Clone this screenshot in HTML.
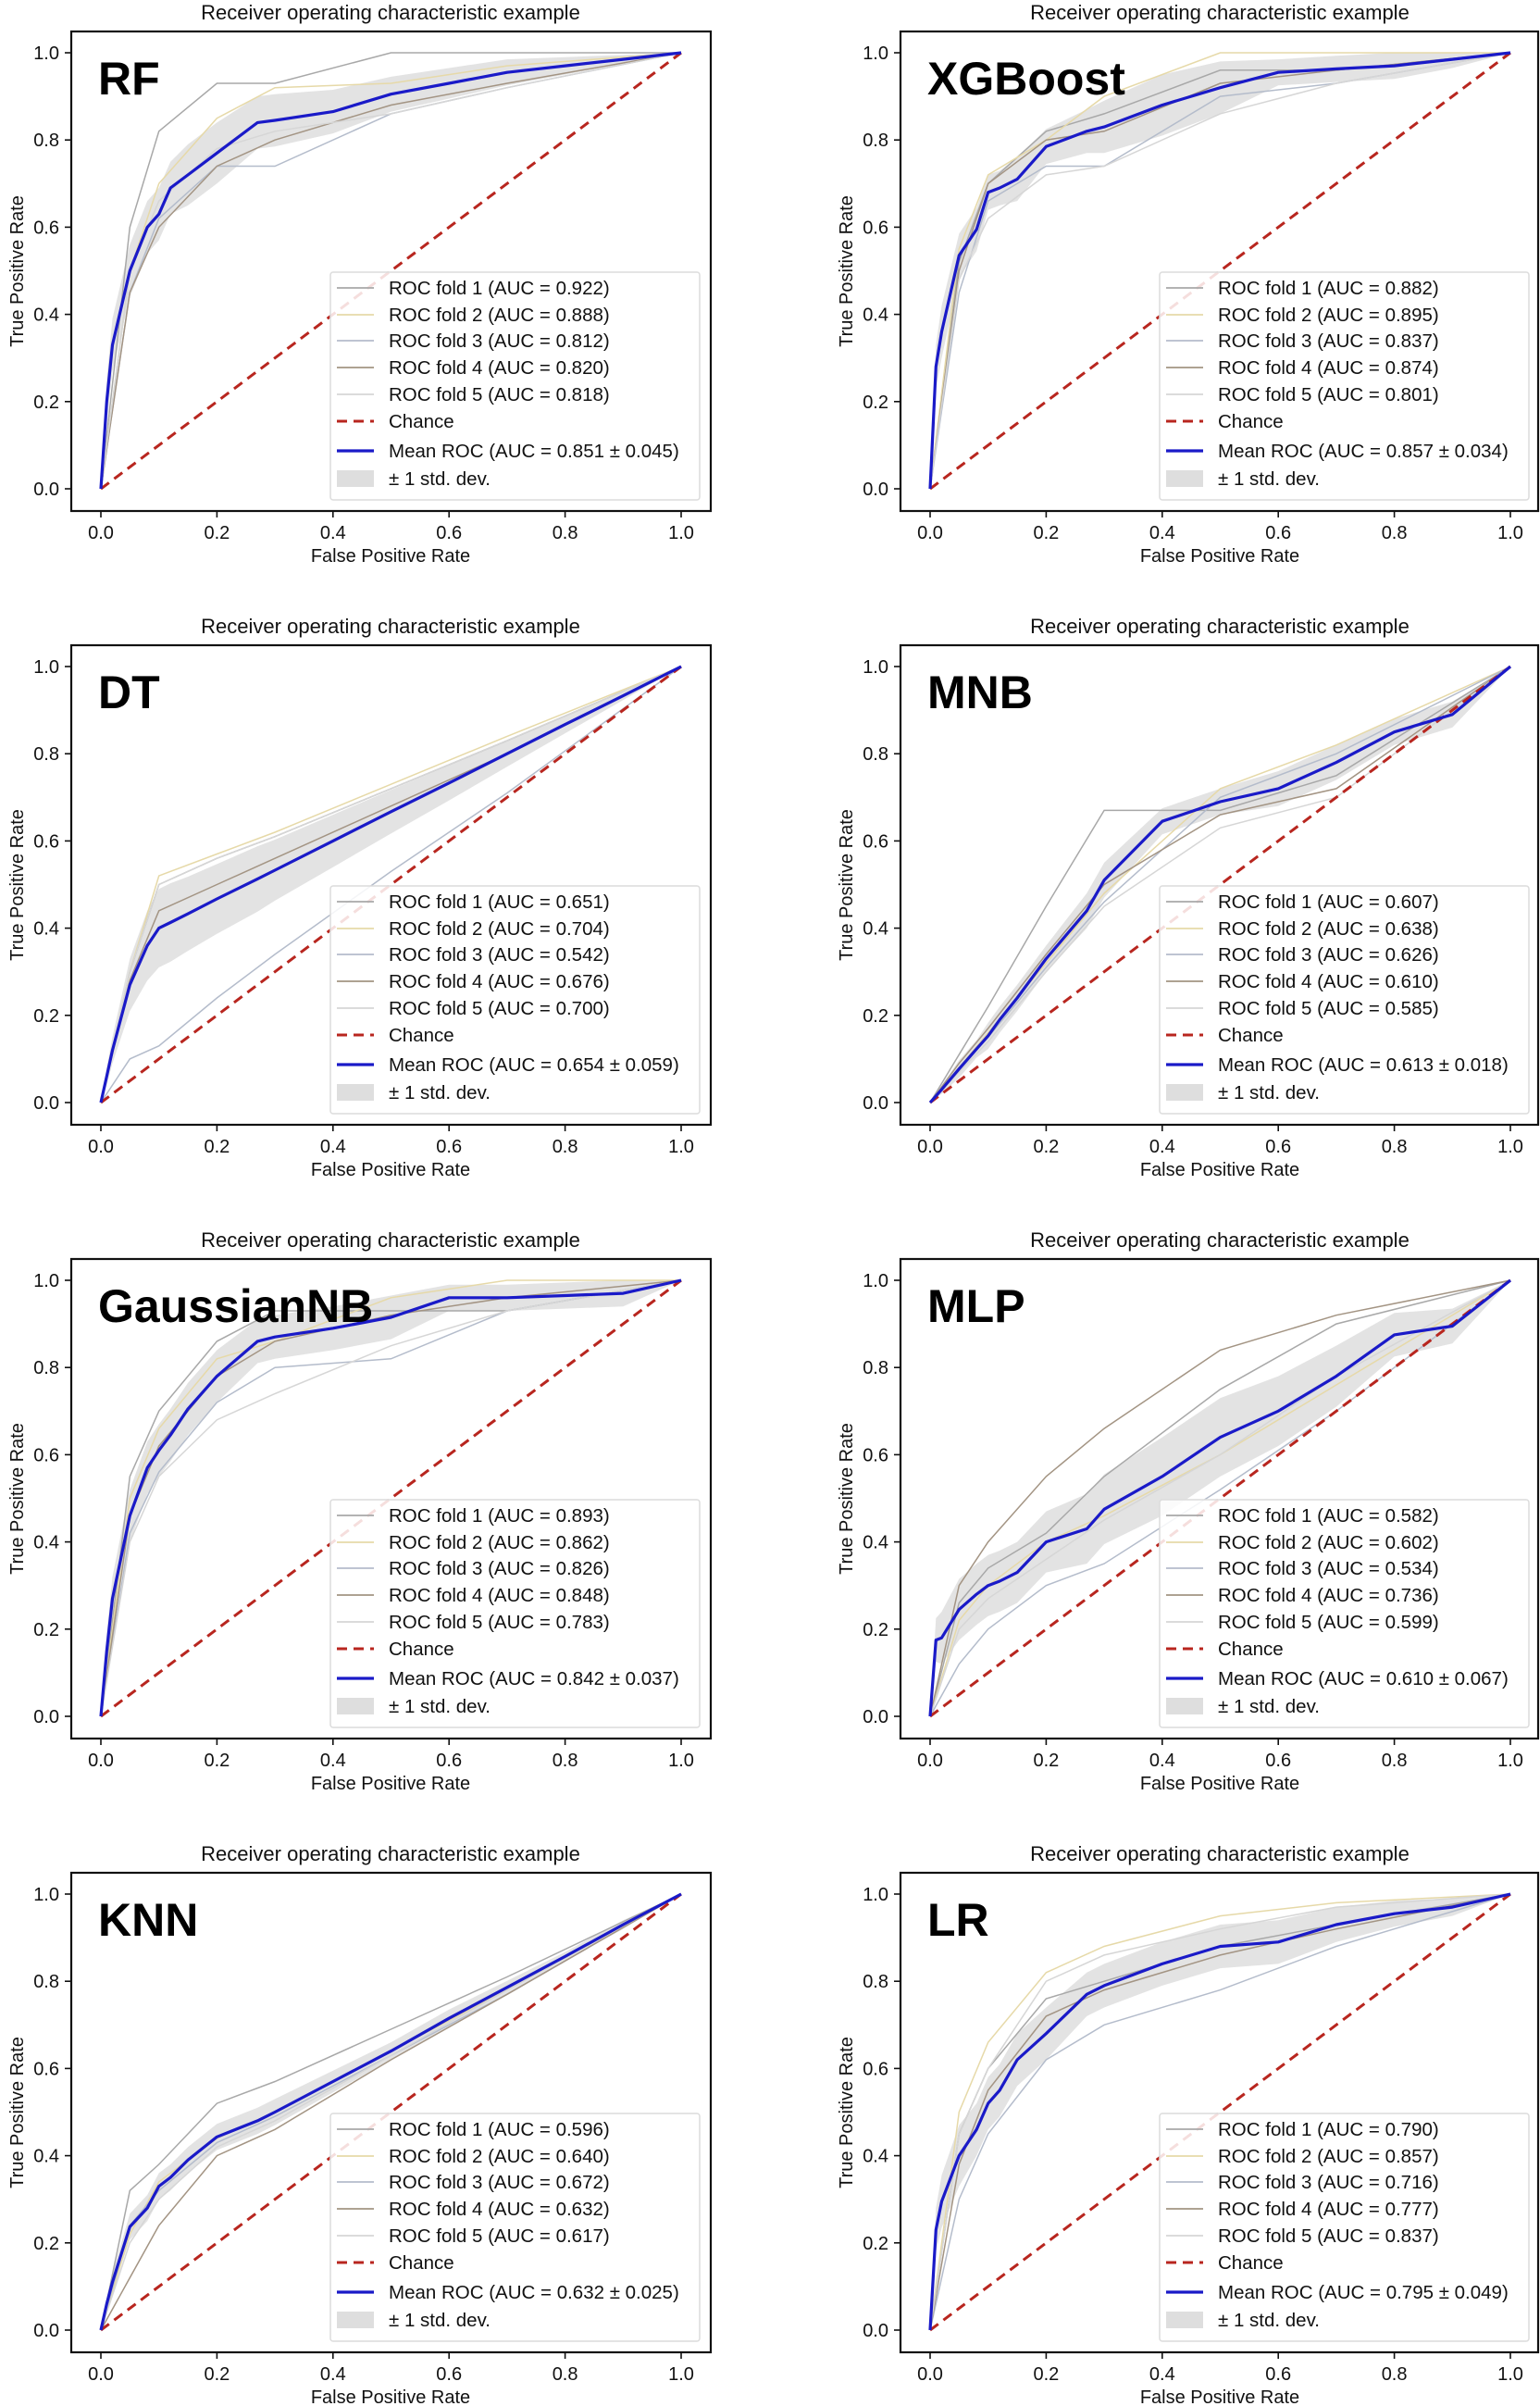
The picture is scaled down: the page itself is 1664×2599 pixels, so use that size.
<!DOCTYPE html>
<html><head><meta charset="utf-8">
<style>
html,body{margin:0;padding:0;background:#fff;}
svg{display:block;font-family:"Liberation Sans","DejaVu Sans",sans-serif;}
</style></head>
<body>
<svg id="fig" width="1664" height="2599" viewBox="0 0 1664 2599" xmlns="http://www.w3.org/2000/svg"></svg>
<script>
// shared FPR grid for mean curves
const gridFpr = [0,0.01,0.02,0.05,0.08,0.1,0.12,0.15,0.2,0.27,0.3,0.4,0.5,0.6,0.7,0.8,0.9,1.0];
// shared coarse FPR grid for fold curves
const foldFpr = [0,0.05,0.1,0.2,0.3,0.5,0.7,1.0];
const tickVals = [0,0.2,0.4,0.6,0.8,1.0];
const tickLabels = ["0.0","0.2","0.4","0.6","0.8","1.0"];

const modelNames = ["RF","XGBoost","DT","MNB","GaussianNB","MLP","KNN","LR"];

const rfMean = [0,0.2,0.33,0.5,0.6,0.63,0.69,0.72,0.77,0.84,0.845,0.865,0.905,0.93,0.955,0.97,0.985,1];
const rfStd  = [0,0.05,0.06,0.06,0.06,0.06,0.06,0.07,0.07,0.06,0.06,0.05,0.04,0.035,0.03,0.02,0.01,0];
const rfFolds = [[0,0.6,0.82,0.93,0.93,1,1,1],[0,0.5,0.7,0.85,0.92,0.93,0.97,1],[0,0.45,0.62,0.74,0.74,0.86,0.92,1],[0,0.45,0.6,0.74,0.8,0.88,0.93,1],[0,0.5,0.66,0.78,0.82,0.86,0.92,1]];
const rfAuc = ["0.922","0.888","0.812","0.820","0.818"];
const rfMeanAuc = "0.851 ± 0.045";

const xgMean = [0,0.28,0.36,0.535,0.595,0.68,0.69,0.71,0.785,0.82,0.83,0.88,0.92,0.955,0.963,0.97,0.985,1];
const xgStd  = [0,0.05,0.06,0.05,0.05,0.04,0.04,0.05,0.04,0.05,0.06,0.07,0.06,0.03,0.03,0.03,0.02,0];
const xgFolds = [[0,0.52,0.7,0.82,0.86,0.96,0.96,1],[0,0.55,0.72,0.8,0.9,1,1,1],[0,0.45,0.66,0.74,0.74,0.9,0.93,1],[0,0.5,0.7,0.8,0.82,0.93,0.96,1],[0,0.48,0.62,0.72,0.74,0.86,0.93,1]];
const xgAuc = ["0.882","0.895","0.837","0.874","0.801"];
const xgMeanAuc = "0.857 ± 0.034";

const dtMean = [0,0.06,0.12,0.27,0.36,0.4,0.413,0.433,0.467,0.513,0.533,0.6,0.667,0.733,0.8,0.867,0.933,1];
const dtStd  = [0,0.02,0.03,0.06,0.08,0.09,0.09,0.085,0.08,0.075,0.07,0.06,0.05,0.04,0.03,0.02,0.01,0];
const dtFolds = [[0,0.3,0.5,0.56,0.61,0.72,0.83,1],[0,0.3,0.52,0.57,0.62,0.73,0.84,1],[0,0.1,0.13,0.24,0.34,0.53,0.71,1],[0,0.28,0.44,0.5,0.56,0.68,0.8,1],[0,0.3,0.5,0.56,0.61,0.72,0.83,1]];
const dtAuc = ["0.651","0.704","0.542","0.676","0.700"];
const dtMeanAuc = "0.654 ± 0.059";

const mnbMean = [0,0.015,0.03,0.077,0.123,0.153,0.19,0.24,0.33,0.44,0.51,0.645,0.69,0.72,0.78,0.85,0.89,1];
const mnbStd  = [0,0.005,0.01,0.02,0.02,0.03,0.03,0.03,0.03,0.04,0.04,0.03,0.03,0.04,0.04,0.03,0.03,0];
const mnbFolds = [[0,0.11,0.22,0.45,0.67,0.67,0.75,1],[0,0.08,0.16,0.32,0.48,0.72,0.82,1],[0,0.08,0.15,0.31,0.46,0.7,0.8,1],[0,0.09,0.17,0.34,0.5,0.66,0.72,1],[0,0.07,0.14,0.3,0.45,0.63,0.7,1]];
const mnbAuc = ["0.607","0.638","0.626","0.610","0.585"];
const mnbMeanAuc = "0.613 ± 0.018";

const gnbMean = [0,0.15,0.27,0.46,0.57,0.61,0.645,0.705,0.78,0.86,0.87,0.89,0.915,0.96,0.96,0.965,0.97,1];
const gnbStd  = [0,0.04,0.05,0.06,0.06,0.06,0.06,0.06,0.06,0.05,0.05,0.05,0.05,0.03,0.03,0.03,0.03,0];
const gnbFolds = [[0,0.55,0.7,0.86,0.93,0.93,0.93,1],[0,0.5,0.66,0.82,0.86,0.96,1,1],[0,0.42,0.56,0.72,0.8,0.82,0.93,1],[0,0.46,0.62,0.78,0.86,0.92,0.96,1],[0,0.4,0.55,0.68,0.74,0.85,0.93,1]];
const gnbAuc = ["0.893","0.862","0.826","0.848","0.783"];
const gnbMeanAuc = "0.842 ± 0.037";

const mlpMean = [0,0.175,0.18,0.245,0.28,0.3,0.31,0.33,0.4,0.43,0.475,0.55,0.64,0.7,0.78,0.875,0.895,1];
const mlpStd  = [0,0.05,0.06,0.07,0.07,0.07,0.07,0.07,0.07,0.08,0.08,0.09,0.09,0.08,0.07,0.05,0.04,0];
const mlpFolds = [[0,0.26,0.34,0.42,0.55,0.75,0.9,1],[0,0.22,0.3,0.4,0.46,0.6,0.76,1],[0,0.12,0.2,0.3,0.35,0.52,0.7,1],[0,0.3,0.4,0.55,0.66,0.84,0.92,1],[0,0.2,0.27,0.36,0.45,0.6,0.78,1]];
const mlpAuc = ["0.582","0.602","0.534","0.736","0.599"];
const mlpMeanAuc = "0.610 ± 0.067";

const knnMean = [0,0.06,0.11,0.237,0.28,0.33,0.35,0.39,0.443,0.48,0.5,0.57,0.64,0.715,0.786,0.857,0.93,1];
const knnStd  = [0,0.01,0.02,0.03,0.03,0.03,0.03,0.03,0.03,0.03,0.03,0.025,0.02,0.02,0.015,0.01,0.01,0];
const knnFolds = [[0,0.32,0.38,0.52,0.57,0.69,0.81,1],[0,0.22,0.34,0.44,0.5,0.64,0.78,1],[0,0.24,0.32,0.43,0.49,0.63,0.77,1],[0,0.12,0.24,0.4,0.46,0.62,0.77,1],[0,0.2,0.3,0.42,0.48,0.63,0.78,1]];
const knnAuc = ["0.596","0.640","0.672","0.632","0.617"];
const knnMeanAuc = "0.632 ± 0.025";

const lrMean = [0,0.23,0.295,0.4,0.46,0.52,0.55,0.62,0.68,0.77,0.79,0.84,0.88,0.89,0.93,0.955,0.97,1];
const lrStd  = [0,0.05,0.06,0.07,0.06,0.06,0.06,0.06,0.06,0.05,0.05,0.05,0.05,0.05,0.04,0.03,0.02,0];
const lrFolds = [[0,0.45,0.6,0.76,0.8,0.88,0.93,1],[0,0.5,0.66,0.82,0.88,0.95,0.98,1],[0,0.3,0.45,0.62,0.7,0.78,0.88,1],[0,0.38,0.55,0.72,0.78,0.86,0.92,1],[0,0.45,0.6,0.8,0.86,0.92,0.97,1]];
const lrAuc = ["0.790","0.857","0.716","0.777","0.837"];
const lrMeanAuc = "0.795 ± 0.049";

const panelMeans = [rfMean,xgMean,dtMean,mnbMean,gnbMean,mlpMean,knnMean,lrMean];
const panelStds = [rfStd,xgStd,dtStd,mnbStd,gnbStd,mlpStd,knnStd,lrStd];
const panelFolds = [rfFolds,xgFolds,dtFolds,mnbFolds,gnbFolds,mlpFolds,knnFolds,lrFolds];
const panelAucs = [rfAuc,xgAuc,dtAuc,mnbAuc,gnbAuc,mlpAuc,knnAuc,lrAuc];
const panelMeanAucs = [rfMeanAuc,xgMeanAuc,dtMeanAuc,mnbMeanAuc,gnbMeanAuc,mlpMeanAuc,knnMeanAuc,lrMeanAuc];

const foldColors = ["#a8a8a8","#e6d9a8","#b4bccb","#a39483","#d6d6d6"];
const NS = "http://www.w3.org/2000/svg";
const fig = document.getElementById("fig");

function mk(tag, attrs, parent){
  const e = document.createElementNS(NS, tag);
  for (const k in attrs) e.setAttribute(k, attrs[k]);
  parent.appendChild(e);
  return e;
}

function drawPanel(i){
  const ox = (i%2)*896, oy = Math.floor(i/2)*663;
  const g = mk("g", {transform:`translate(${ox},${oy})`}, fig);
  
  
  const X = v => 109 + v*627;
  const Y = v => 528 - v*471;
  const pts = (xs, ys) => xs.map((x,k)=>X(x).toFixed(1)+","+Y(ys[k]).toFixed(1)).join(" ");

  const title = mk("text", {x:422, y:21, "text-anchor":"middle", "font-size":"22", fill:"#111"}, g);
  title.textContent = "Receiver operating characteristic example";
  
  

  const mean = panelMeans[i], sd = panelStds[i];
  const up = mean.map((m,k)=>Math.min(1,m+sd[k]));
  const lo = mean.map((m,k)=>Math.max(0,m-sd[k]));
  const bandPts = gridFpr.map((x,k)=>X(x).toFixed(1)+","+Y(up[k]).toFixed(1)).concat(gridFpr.slice().reverse().map((x,k)=>X(x).toFixed(1)+","+Y(lo[lo.length-1-k]).toFixed(1))).join(" ");
  const band = mk("polygon", {points:bandPts, fill:"#c8c8c8", "fill-opacity":"0.5"}, g);
  
  

  panelFolds[i].forEach((f,k)=>{
    const l = mk("polyline", {points:pts(foldFpr,f), fill:"none", stroke:foldColors[k], "stroke-width":"1.5", "stroke-linejoin":"miter"}, g);
    
    
  });

  const ch = mk("line", {x1:X(0), y1:Y(0), x2:X(1), y2:Y(1), stroke:"#b8261f", "stroke-width":"3", "stroke-dasharray":"11,7"}, g);
  
  

  const ml = mk("polyline", {points:pts(gridFpr,mean), fill:"none", stroke:"#1a1ac8", "stroke-width":"3.2", "stroke-linejoin":"round"}, g);
  
  

  const box = mk("rect", {x:77, y:34, width:i%2 ? 689 : 691, height:518, fill:"none", stroke:"#111", "stroke-width":"2.2"}, g);
  
  

  tickVals.forEach((v,k)=>{
    mk("line", {x1:X(v), y1:552, x2:X(v), y2:559, stroke:"#111", "stroke-width":"1.6"}, g);
    const tx = mk("text", {x:X(v), y:582, "text-anchor":"middle", "font-size":"20", fill:"#111"}, g);
    tx.textContent = tickLabels[k];
    
    
    mk("line", {x1:70, y1:Y(v), x2:77, y2:Y(v), stroke:"#111", "stroke-width":"1.6"}, g);
    const ty = mk("text", {x:64, y:Y(v)+7, "text-anchor":"end", "font-size":"20", fill:"#111"}, g);
    ty.textContent = tickLabels[k];
    
    
  });

  const xl = mk("text", {x:422, y:607, "text-anchor":"middle", "font-size":"20", fill:"#111"}, g);
  xl.textContent = "False Positive Rate";
  
  
  const yl = mk("text", {x:0, y:0, "text-anchor":"middle", "font-size":"20", fill:"#111", transform:"translate(25,293) rotate(-90)"}, g);
  yl.textContent = "True Positive Rate";
  
  

  const nm = mk("text", {x:106, y:102, "font-size":"50", "font-weight":"bold", fill:"#000"}, g);
  nm.textContent = modelNames[i];
  
  

  const lg = mk("g", {}, g);
  
  
  mk("rect", {x:357, y:294, width:399, height:246, rx:3, fill:"#fff", "fill-opacity":"0.85", stroke:"#dcdcdc", "stroke-width":"1.5"}, lg);
  const rows = [311,340,368,397,426,455,487,517];
  const labels = panelAucs[i].map((a,k)=>`ROC fold ${k+1} (AUC = ${a})`).concat(["Chance", `Mean ROC (AUC = ${panelMeanAucs[i]})`, "± 1 std. dev."]);
  labels.forEach((t,k)=>{
    const y = rows[k];
    if (k<5) mk("line", {x1:364, y1:y, x2:404, y2:y, stroke:foldColors[k], "stroke-width":"1.8"}, lg);
    else if (k===5) mk("line", {x1:364, y1:y, x2:404, y2:y, stroke:"#b8261f", "stroke-width":"3", "stroke-dasharray":"11,7"}, lg);
    else if (k===6) mk("line", {x1:364, y1:y, x2:404, y2:y, stroke:"#1a1ac8", "stroke-width":"3.2"}, lg);
    else mk("rect", {x:364, y:y-9, width:40, height:18, fill:"#dedede"}, lg);
    const tt = mk("text", {x:420, y:y+7, "font-size":"20.5", fill:"#111"}, lg);
    tt.textContent = t;
    
    
  });
}
for (let i=0;i<8;i++) drawPanel(i);
</script>
</body></html>
